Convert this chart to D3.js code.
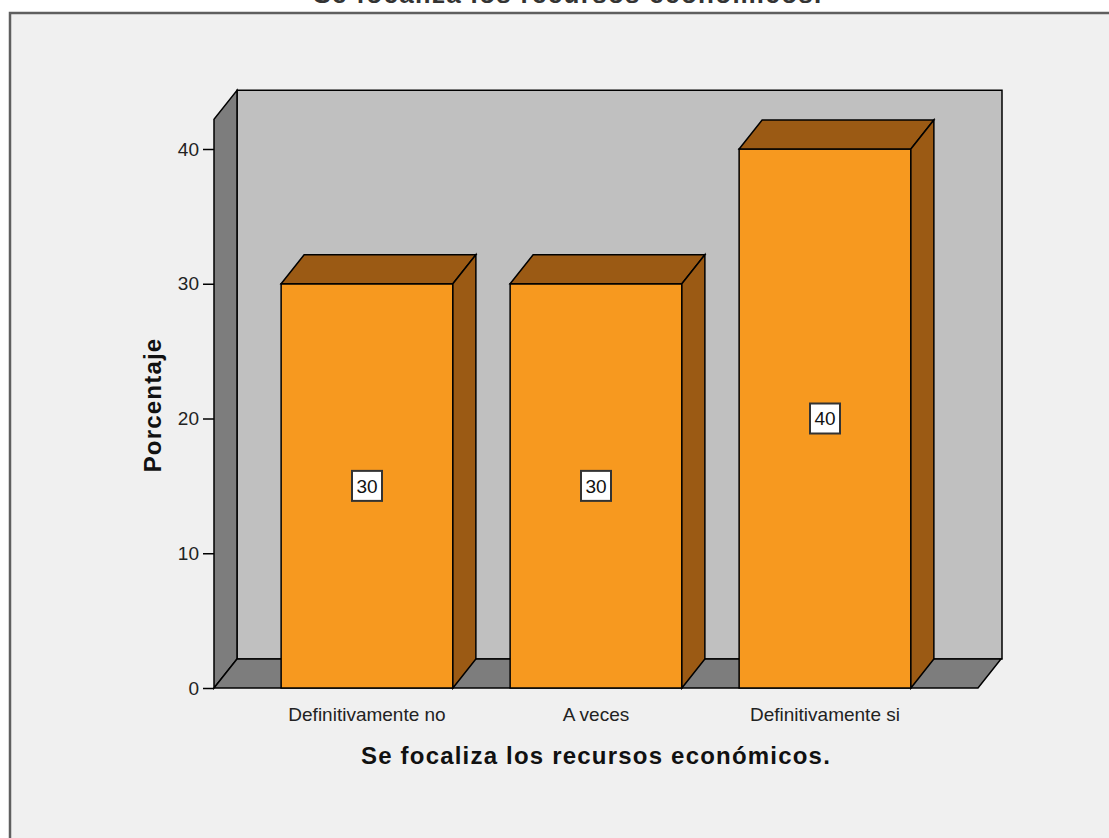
<!DOCTYPE html>
<html>
<head>
<meta charset="utf-8">
<script src="https://cdn.jsdelivr.net/npm/d3@7"></script>
<style>
  body { margin: 0; background: #fff; }
  svg { display: block; font-family: "Liberation Sans", Arial, sans-serif; }
</style>
</head>
<body>
<div id="chart"></div>
<script>
// data
const categories = ["Definitivamente no", "A veces", "Definitivamente si"];
const values = [30, 30, 40];
const yTicks = [0, 10, 20, 30, 40];
const title = "Se focaliza los recursos económicos.";
const xTitle = "Se focaliza los recursos económicos.";
const yTitle = "Porcentaje";

const W = 1109, H = 838;
const dx = 23, dy = -29;           // 3D depth offset
const left = 214, right = 978;     // floor front edge
const y0px = 688, y40px = 149;

const svg = d3.select("#chart").append("svg")
  .attr("width", W).attr("height", H);

// outer background + frame
svg.append("rect").attr("width", W).attr("height", H).attr("fill", "#fff");
svg.append("rect")
  .attr("x", 10).attr("y", 13).attr("width", W + 20).attr("height", H + 20)
  .attr("fill", "#f0f0f0").attr("stroke", "#5f5f5f").attr("stroke-width", 2.5);

// title, cut off at the top as in the source image
svg.append("text")
  .attr("x", 568).attr("y", 3)
  .attr("text-anchor", "middle")
  .attr("font-size", 26).attr("font-weight", "bold").attr("fill", "#333")
  .attr("letter-spacing", 1.3)
  .text(title);

// scales
const y = d3.scaleLinear().domain([0, 40]).range([y0px, y40px]);
const x = d3.scaleBand().domain(categories).range([252.5, 939.5]);
const barW = x.bandwidth() * 0.75;
const wallTop = y(42.2);

const poly = pts => pts.map(p => p.join(",")).join(" ");

// back wall
svg.append("polygon")
  .attr("points", poly([[left + dx, wallTop + dy], [right + dx + 1, wallTop + dy], [right + dx + 1, y0px + dy], [left + dx, y0px + dy]]))
  .attr("fill", "#c0c0c0").attr("stroke", "#000").attr("stroke-width", 1.5);

// left wall
svg.append("polygon")
  .attr("points", poly([[left, y0px], [left + dx, y0px + dy], [left + dx, wallTop + dy], [left, wallTop]]))
  .attr("fill", "#7d7d7d").attr("stroke", "#000").attr("stroke-width", 1.5);

// floor
svg.append("polygon")
  .attr("points", poly([[left, y0px], [right, y0px], [right + dx, y0px + dy], [left + dx, y0px + dy]]))
  .attr("fill", "#7d7d7d").attr("stroke", "#000").attr("stroke-width", 1.5);

// bars
const bars = svg.selectAll("g.bar").data(values).enter().append("g").attr("class", "bar");
const bx0 = (d, i) => x(categories[i]) + (x.bandwidth() - barW) / 2;

bars.append("rect")
  .attr("x", bx0).attr("y", d => y(d))
  .attr("width", barW).attr("height", d => y0px - y(d))
  .attr("fill", "#f7991f").attr("stroke", "#000").attr("stroke-width", 1.5);

bars.append("polygon")
  .attr("points", (d, i) => {
    const a = bx0(d, i), b = a + barW, t = y(d);
    return poly([[a, t], [a + dx, t + dy], [b + dx, t + dy], [b, t]]);
  })
  .attr("fill", "#9b5a14").attr("stroke", "#000").attr("stroke-width", 1.5);

bars.append("polygon")
  .attr("points", (d, i) => {
    const b = bx0(d, i) + barW, t = y(d);
    return poly([[b, t], [b + dx, t + dy], [b + dx, y0px + dy], [b, y0px]]);
  })
  .attr("fill", "#9b5a14").attr("stroke", "#000").attr("stroke-width", 1.5);

// value labels
const lab = bars.append("g")
  .attr("transform", (d, i) => `translate(${x(categories[i]) + x.bandwidth() / 2},${y(d / 2)})`);
lab.append("rect")
  .attr("x", -15).attr("y", -15).attr("width", 30).attr("height", 30)
  .attr("fill", "#fff").attr("stroke", "#333").attr("stroke-width", 2);
lab.append("text")
  .attr("text-anchor", "middle").attr("dy", "0.36em")
  .attr("font-size", 19).attr("fill", "#111")
  .text(d => d);

// y axis
const yAxis = d3.axisLeft(y).tickValues(yTicks).tickSize(11).tickPadding(4);
const gy = svg.append("g").attr("transform", `translate(${left},0)`).call(yAxis);
gy.select(".domain").remove();
gy.selectAll("line").attr("stroke", "#000").attr("stroke-width", 1.5);
gy.selectAll("text").attr("font-size", 19).attr("fill", "#222")
  .attr("font-family", "Liberation Sans, Arial, sans-serif");

// x category labels
svg.selectAll("text.cat").data(categories).enter().append("text")
  .attr("class", "cat")
  .attr("x", d => x(d) + x.bandwidth() / 2).attr("y", 721)
  .attr("text-anchor", "middle")
  .attr("font-size", 19).attr("fill", "#222")
  .text(d => d);

// axis titles
svg.append("text")
  .attr("x", 596).attr("y", 764)
  .attr("text-anchor", "middle")
  .attr("font-size", 24).attr("font-weight", "bold").attr("fill", "#111")
  .attr("letter-spacing", 1.2)
  .text(xTitle);

svg.append("text")
  .attr("transform", "translate(161,405) rotate(-90)")
  .attr("text-anchor", "middle")
  .attr("font-size", 24).attr("font-weight", "bold").attr("fill", "#111")
  .attr("letter-spacing", 1.2)
  .text(yTitle);
</script>
</body>
</html>
